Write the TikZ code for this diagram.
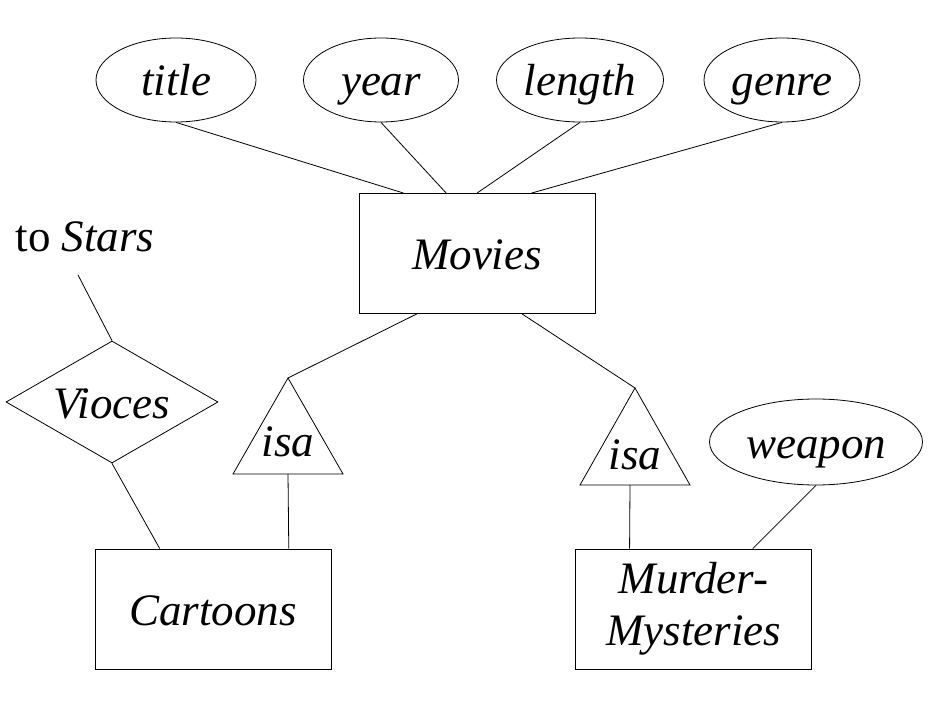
\documentclass[tikz,border=0pt]{standalone}
\usepackage{fontspec}
\setmainfont{Liberation Serif}
\usetikzlibrary{shapes.geometric,calc}

\begin{document}
\begin{tikzpicture}[
    x=0.5pt, y=-0.5pt,
    every node/.style={font=\fontsize{22.5}{26}\selectfont\itshape},
    lbl/.style={text height=16pt, text depth=0pt},
    attr/.style={ellipse, draw, lbl, inner sep=0pt, minimum height=42pt},
    entity/.style={rectangle, draw, inner sep=0pt, minimum width=118pt, minimum height=60pt, align=center},
    rel/.style={diamond, draw, lbl, inner sep=0pt, shape aspect=1.74, minimum width=106pt, minimum height=61pt},
    isatri/.style={draw},
    line/.style={draw}
]
    \useasboundingbox (0,0) rectangle (935,710);

    % attributes of Movies
    \node [attr, minimum width=80pt] (title) at (176,80) {title};
    \node [attr, minimum width=77.5pt] (year) at (381,80) {year};
    \node [attr, minimum width=83.5pt] (length) at (580,80) {length};
    \node [attr, minimum width=78pt] (genre) at (782,80) {genre};

    % entity sets
    \node [entity, lbl] (movies) at (477,253.5) {Movies};
    \node [entity, lbl] (cartoons) at (213,609) {Cartoons};
    \node [entity] (murder) at (693.5,609) {Murder-\\Mysteries};
    \node [attr, minimum width=106.5pt, minimum height=43pt] (weapon) at (816,442) {weapon};

    % relationship
    \node [rel] (voices) at (112,402) {Vioces};
    \node [font=\fontsize{22.5}{26}\selectfont] (stars) at (85,237) {to \textit{Stars}};
    \coordinate (starsend) at (78,275);

    % isa triangles
    \coordinate (isaLtop) at (288,378);
    \coordinate (isaLbot) at (288,474);
    \draw [isatri] (isaLtop) -- ++(55,96) -- ++(-110,0) -- cycle;
    \node [lbl] (isaL) at (288,440) {isa};
    \coordinate (isaRtop) at (635,388);
    \coordinate (isaRbot) at (630,485);
    \draw [isatri] (isaRtop) -- ++(55,97) -- ++(-110,0) -- cycle;
    \node [lbl] (isaR) at (635,453) {isa};

    \draw [line] (title.south) -- ($(movies.north west)!0.19!(movies.north east)$);
    \draw [line] (year.south) -- ($(movies.north west)!0.37!(movies.north east)$);
    \draw [line] (length.south) -- (movies.north);
    \draw [line] (genre.south) -- ($(movies.north west)!0.73!(movies.north east)$);

    \draw [line] ($(movies.south west)!0.246!(movies.south east)$) -- (isaLtop);
    \draw [line] ($(movies.south west)!0.69!(movies.south east)$) -- (isaRtop);
    \draw [line] (isaLbot) -- ($(cartoons.north west)!0.82!(cartoons.north east)$);
    \draw [line] (isaRbot) -- ($(murder.north west)!0.23!(murder.north east)$);

    \draw [line] (starsend) -- (voices.north);
    \draw [line] (voices.south) -- ($(cartoons.north west)!0.275!(cartoons.north east)$);
    \draw [line] (weapon.south) -- ($(murder.north west)!0.75!(murder.north east)$);
\end{tikzpicture}
\end{document}
